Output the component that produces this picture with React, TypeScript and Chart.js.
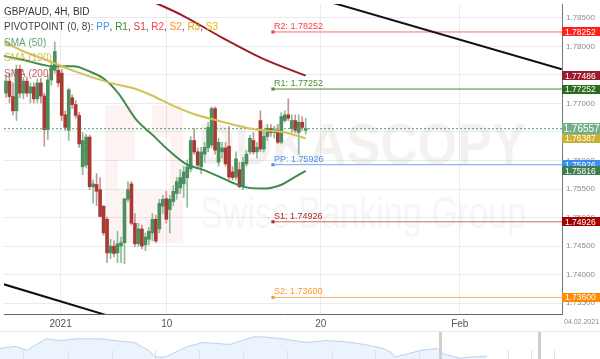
import React, { useEffect, useRef } from "react";
import { Chart, registerables } from "chart.js";

Chart.register(...registerables);

const FONT = '"Liberation Sans", Arial, sans-serif';
Chart.defaults.font.family = FONT;

// ---------------- GBP/AUD 4H candles ----------------
const candleOpen = [
  1.7718, 1.7739, 1.7712, 1.7687, 1.7760, 1.7718, 1.7739, 1.7718, 1.7729, 1.7708,
  1.7736, 1.7713, 1.7654, 1.7741, 1.7758, 1.7758, 1.7753, 1.7680, 1.7653, 1.7710,
  1.7698, 1.7679, 1.7589, 1.7592, 1.7641, 1.7554, 1.7558, 1.7549, 1.7520, 1.7497,
  1.7438, 1.7450, 1.7438, 1.7450, 1.7456, 1.7532, 1.7559, 1.7490, 1.7454, 1.7480,
  1.7452, 1.7462, 1.7473, 1.7497, 1.7480, 1.7520, 1.7533, 1.7514, 1.7528, 1.7542,
  1.7552, 1.7559, 1.7570, 1.7585, 1.7635, 1.7615, 1.7589, 1.7611, 1.7622, 1.7627,
  1.7691, 1.7597, 1.7615, 1.7622, 1.7625, 1.7580, 1.7571, 1.7584, 1.7554, 1.7594,
  1.7615, 1.7635, 1.7615, 1.7670, 1.7620, 1.7642, 1.7656, 1.7649, 1.7653, 1.7632,
  1.7670, 1.7680, 1.7656, 1.7670, 1.7649, 1.7667, 1.7653,
];
const candleHigh = [
  1.7750, 1.7753, 1.7736, 1.7767, 1.7767, 1.7746, 1.7746, 1.7736, 1.7736, 1.7743,
  1.7744, 1.7718, 1.7750, 1.7770, 1.7808, 1.7763, 1.7760, 1.7687, 1.7727, 1.7715,
  1.7705, 1.7684, 1.7649, 1.7646, 1.7644, 1.7566, 1.7577, 1.7570, 1.7521, 1.7501,
  1.7462, 1.7459, 1.7476, 1.7466, 1.7533, 1.7563, 1.7563, 1.7507, 1.7490, 1.7487,
  1.7473, 1.7483, 1.7507, 1.7504, 1.7532, 1.7539, 1.7546, 1.7539, 1.7556, 1.7570,
  1.7584, 1.7590, 1.7601, 1.7642, 1.7656, 1.7622, 1.7623, 1.7632, 1.7667, 1.7694,
  1.7694, 1.7639, 1.7632, 1.7632, 1.7660, 1.7589, 1.7615, 1.7597, 1.7606, 1.7618,
  1.7644, 1.7649, 1.7632, 1.7687, 1.7653, 1.7663, 1.7663, 1.7660, 1.7663, 1.7684,
  1.7687, 1.7708, 1.7680, 1.7680, 1.7680, 1.7677, 1.7674,
];
const candleLow = [
  1.7710, 1.7701, 1.7680, 1.7670, 1.7710, 1.7708, 1.7712, 1.7701, 1.7701, 1.7701,
  1.7701, 1.7625, 1.7637, 1.7732, 1.7753, 1.7729, 1.7670, 1.7653, 1.7635, 1.7691,
  1.7674, 1.7623, 1.7575, 1.7587, 1.7549, 1.7525, 1.7521, 1.7501, 1.7469, 1.7421,
  1.7428, 1.7431, 1.7421, 1.7421, 1.7419, 1.7528, 1.7487, 1.7449, 1.7449, 1.7445,
  1.7442, 1.7452, 1.7459, 1.7456, 1.7473, 1.7507, 1.7490, 1.7473, 1.7521, 1.7532,
  1.7542, 1.7535, 1.7518, 1.7580, 1.7611, 1.7587, 1.7577, 1.7597, 1.7615, 1.7622,
  1.7611, 1.7590, 1.7604, 1.7590, 1.7566, 1.7566, 1.7566, 1.7552, 1.7549, 1.7590,
  1.7611, 1.7611, 1.7604, 1.7615, 1.7615, 1.7635, 1.7642, 1.7639, 1.7629, 1.7629,
  1.7667, 1.7670, 1.7649, 1.7649, 1.7611, 1.7653, 1.7646,
];
const candleClose = [
  1.7739, 1.7712, 1.7687, 1.7760, 1.7718, 1.7739, 1.7718, 1.7729, 1.7708, 1.7736,
  1.7713, 1.7654, 1.7741, 1.7763, 1.7791, 1.7736, 1.7679, 1.7658, 1.7724, 1.7698,
  1.7679, 1.7629, 1.7635, 1.7641, 1.7554, 1.7559, 1.7546, 1.7502, 1.7473, 1.7438,
  1.7450, 1.7437, 1.7454, 1.7456, 1.7533, 1.7549, 1.7490, 1.7454, 1.7480, 1.7450,
  1.7466, 1.7476, 1.7497, 1.7459, 1.7525, 1.7532, 1.7497, 1.7532, 1.7546, 1.7563,
  1.7570, 1.7580, 1.7589, 1.7635, 1.7615, 1.7592, 1.7615, 1.7623, 1.7658, 1.7691,
  1.7618, 1.7632, 1.7622, 1.7594, 1.7571, 1.7570, 1.7603, 1.7554, 1.7597, 1.7611,
  1.7639, 1.7615, 1.7623, 1.7620, 1.7642, 1.7656, 1.7649, 1.7654, 1.7632, 1.7677,
  1.7680, 1.7674, 1.7670, 1.7653, 1.7667, 1.7658, 1.7656,
];

// ---------------- moving averages (candle index, value) ----------------
const sma50Index = [-0.6, 5.1, 13.7, 19.4, 23.6, 27.9, 32.2, 37.3, 42.2, 47.0, 51.6, 56.4, 60.7, 65.0, 69.8, 74.4, 79.2, 82.6, 86];
const sma50Value = [1.7783, 1.7776, 1.7765, 1.7765, 1.7757, 1.7744, 1.7718, 1.7672, 1.7644, 1.7616, 1.7594, 1.7584, 1.7573, 1.7561, 1.7552, 1.7551, 1.7558, 1.7570, 1.75816];
const sma100Index = [-0.6, 5.1, 11.7, 19.4, 29.9, 37.9, 42.2, 47.9, 53.6, 60.7, 66.4, 72.1, 80.1, 86];
const sma100Value = [1.7808, 1.7791, 1.7776, 1.7757, 1.7736, 1.7724, 1.7713, 1.7696, 1.7682, 1.7670, 1.7661, 1.7654, 1.7649, 1.76387];
const sma200Index = [41.5, 50.7, 62.1, 73.5, 86];
const sma200Value = [1.7880, 1.7854, 1.7815, 1.7779, 1.77486];

// ---------------- drawn trend lines ----------------
const trendUpperIndex = [90, 159.5];
const trendUpperValue = [1.7883, 1.7760];
const trendLowerIndex = [-0.6, 28.8];
const trendLowerValue = [1.7383, 1.7329];

// ---------------- pivot points ----------------
const pivotNames = ["R2", "R1", "PP", "S1", "S2"];
const pivotValues = [1.78252, 1.77252, 1.75926, 1.74926, 1.736];
const pivotLineColors = ["#ff6a6a", "#4d8a2e", "#6ea3f2", "#c86a6a", "#ffae5c"];
const pivotTextColors = ["#ff3a3a", "#4a8a34", "#4a90ee", "#b02a2a", "#ff9a2a"];
const pivotStart = 76.6;

const lastPrice = 1.76557;

// ---------------- axes ----------------
const X_MIN = -0.57;
const X_MAX = 159.54;
const Y_MIN = 1.7331;
const Y_MAX = 1.78742;
const priceTicks = [1.735, 1.74, 1.745, 1.75, 1.755, 1.76, 1.765, 1.77, 1.775, 1.78, 1.785];
const dateTickPositions = [15.67, 46.15, 90.31, 130.2];
const dateTickLabels = ["2021", "10", "20", "Feb"];
const cursorDate = "04.02.2021";

// right-axis value boxes
const axisBoxValues = [1.78252, 1.77486, 1.77252, 1.76557, 1.76387, 1.75926, 1.75816, 1.74926, 1.736];
const axisBoxColors = ["#ff1f1f", "#9a1c2c", "#2e6b1e", "#72b08a", "#c9b136", "#3d8cf2", "#3e7d4f", "#a30000", "#ff8a00"];

// ---------------- navigator ----------------
const navDay = [0, 5.8, 10.3, 17.6, 23.4, 29.5, 38.3, 44.1, 51.4, 57.1, 59.4, 63.2, 72.1, 77.8, 88.2, 97.0, 101.2, 108.5, 117.3, 125.0, 132.2, 139.5, 146.8, 149.9, 151.4, 155.6, 161.4, 167.5, 170.2, 176.3, 180.5, 186.7];
const navClose = [1.738, 1.745, 1.731, 1.772, 1.766, 1.772, 1.772, 1.766, 1.759, 1.731, 1.707, 1.707, 1.745, 1.759, 1.752, 1.779, 1.779, 1.772, 1.759, 1.766, 1.762, 1.752, 1.738, 1.724, 1.707, 1.717, 1.731, 1.738, 1.717, 1.703, 1.707, 1.710];
const navTickDays = [8.8, 26, 43, 59.4, 76.3, 93.2, 110, 127.3, 143.8, 160.6, 194.7, 203.6, 212.4];
const navWindowDays = [168.7, 206.6];

const BODY_UP = "#4c8f5e";
const BODY_DOWN = "#a93a33";
const WICK_UP = "#8cbd99";
const WICK_DOWN = "#cc9290";

function pts(xs: number[], ys: number[]) {
  return xs.map((x, i) => ({ x, y: ys[i] }));
}

function MainChart() {
  const ref = useRef<HTMLCanvasElement | null>(null);
  useEffect(() => {
    if (!ref.current) return;
    const idx = candleOpen.map((_, i) => i);
    const up = (i: number) => candleClose[i] >= candleOpen[i];

    const pivotSets: any[] = pivotValues.map((v, k) => ({
      type: "line",
      data: [{ x: pivotStart, y: v }, { x: X_MAX, y: v }],
      borderColor: pivotLineColors[k],
      borderWidth: 1,
      pointRadius: (c: any) => (c.dataIndex === 0 ? 2.2 : 0),
      pointStyle: "rect",
      pointBackgroundColor: pivotTextColors[k],
      pointBorderWidth: 0,
      order: 2,
    }));

    const watermark = {
      id: "watermark",
      beforeDatasetsDraw(chart: any) {
        const { ctx, chartArea: a } = chart;
        ctx.save();
        ctx.beginPath();
        ctx.rect(a.left, a.top, a.right - a.left, a.bottom - a.top);
        ctx.clip();
        ctx.fillStyle = "rgba(232,90,90,0.075)";
        const blocks = [
          [105, 105, 30, 55],
          [105, 160, 13, 83],
          [152, 105, 31, 32],
          [170, 137, 13, 106],
          [118, 190, 52, 53],
        ];
        blocks.forEach((b) => ctx.fillRect(b[0], b[1], b[2], b[3]));
        ctx.textBaseline = "alphabetic";
        ctx.fillStyle = "rgba(160,130,130,0.11)";
        ctx.font = `bold 72px ${FONT}`;
        let w = ctx.measureText("DUKASCOPY").width;
        ctx.save();
        ctx.translate(198, 164);
        ctx.scale(328 / w, 0.8);
        ctx.fillText("DUKASCOPY", 0, 0);
        ctx.restore();
        ctx.fillStyle = "rgba(150,150,150,0.09)";
        ctx.font = `44px ${FONT}`;
        w = ctx.measureText("Swiss Banking Group").width;
        ctx.save();
        ctx.translate(200, 228);
        ctx.scale(326 / w, 1);
        ctx.fillText("Swiss Banking Group", 0, 0);
        ctx.restore();
        ctx.restore();
      },
    };

    const overlay = {
      id: "overlay",
      afterDraw(chart: any) {
        const { ctx } = chart;
        const xs = chart.scales.x;
        const ys = chart.scales.y;
        ctx.save();
        // legend block
        ctx.textBaseline = "middle";
        ctx.textAlign = "left";
        ctx.font = `10px ${FONT}`;
        ctx.fillStyle = "#333";
        ctx.fillText("GBP/AUD, 4H, BID", 4, 12);
        const segs: [string, string][] = [
          ["PIVOTPOINT (0, 8): ", "#444"],
          ["PP", "#4a8ff0"], [", ", "#444"],
          ["R1", "#3a8a3a"], [", ", "#444"],
          ["S1", "#d43a3a"], [", ", "#444"],
          ["R2", "#ff4040"], [", ", "#444"],
          ["S2", "#ff8c1a"], [", ", "#444"],
          ["R3", "#e0a800"], [", ", "#444"],
          ["S3", "#e8b800"],
        ];
        let lx = 4;
        segs.forEach(([t, c]) => {
          ctx.fillStyle = c;
          ctx.fillText(t, lx, 27);
          lx += ctx.measureText(t).width;
        });
        ctx.fillStyle = "rgba(74,140,90,0.85)";
        ctx.fillText("SMA (50)", 4, 43);
        ctx.fillStyle = "rgba(205,184,74,0.9)";
        ctx.fillText("SMA (100)", 4, 58);
        ctx.fillStyle = "rgba(184,64,72,0.85)";
        ctx.fillText("SMA (200)", 4, 74);

        // pivot labels
        ctx.font = `9px ${FONT}`;
        ctx.textBaseline = "bottom";
        const px = xs.getPixelForValue(pivotStart);
        pivotValues.forEach((v, k) => {
          ctx.fillStyle = pivotTextColors[k];
          ctx.fillText(`${pivotNames[k]}: ${v.toFixed(5)}`, px + 1, ys.getPixelForValue(v) - 1);
        });

        // right axis boxes
        const right = chart.width;
        axisBoxValues.forEach((v, k) => {
          const y = ys.getPixelForValue(v);
          const big = v === lastPrice;
          const h = big ? 11 : 9;
          ctx.fillStyle = axisBoxColors[k];
          ctx.fillRect(xs.right, Math.round(y - h / 2), right - xs.right, h);
          ctx.fillStyle = "#fff";
          ctx.font = big ? `10px ${FONT}` : `8.5px ${FONT}`;
          ctx.textBaseline = "middle";
          ctx.fillText(v.toFixed(5), xs.right + (big ? 1.5 : 3), Math.round(y) + 0.5);
        });

        // cursor date
        ctx.font = `7px ${FONT}`;
        ctx.fillStyle = "#8a8a8a";
        ctx.textBaseline = "middle";
        ctx.fillText(cursorDate, xs.right + 2, ys.bottom + 8);
        ctx.restore();
      },
    };

    const chart = new Chart(ref.current, {
      type: "bar",
      data: {
        datasets: [
          {
            type: "line",
            data: pts(trendUpperIndex, trendUpperValue),
            borderColor: "#111",
            borderWidth: 2,
            pointRadius: 0,
            order: 0,
          },
          {
            type: "line",
            data: pts(trendLowerIndex, trendLowerValue),
            borderColor: "#111",
            borderWidth: 2,
            pointRadius: 0,
            order: 0,
          },
          {
            type: "line",
            data: pts(sma200Index, sma200Value),
            borderColor: "#9b1d2c",
            borderWidth: 2,
            pointRadius: 0,
            cubicInterpolationMode: "monotone",
            order: 1,
          },
          {
            type: "line",
            data: pts(sma100Index, sma100Value),
            borderColor: "#d4c154",
            borderWidth: 2,
            pointRadius: 0,
            cubicInterpolationMode: "monotone",
            order: 1,
          },
          {
            type: "line",
            data: pts(sma50Index, sma50Value),
            borderColor: "#3f8a4c",
            borderWidth: 2,
            pointRadius: 0,
            cubicInterpolationMode: "monotone",
            order: 1,
          },
          ...pivotSets,
          {
            type: "line",
            data: [{ x: X_MIN, y: lastPrice }, { x: X_MAX, y: lastPrice }],
            borderColor: "#4f9d62",
            borderWidth: 1,
            borderDash: [2, 2],
            pointRadius: 0,
            order: 2,
          },
          {
            type: "bar",
            data: idx.map((i) => ({ x: i, y: [candleOpen[i], candleClose[i]] })) as any,
            backgroundColor: idx.map((i) => (up(i) ? BODY_UP : BODY_DOWN)),
            barThickness: 3,
            grouped: false,
            borderWidth: 0,
            minBarLength: 1,
            order: 3,
          },
          {
            type: "bar",
            data: idx.map((i) => ({ x: i, y: [candleLow[i], candleHigh[i]] })) as any,
            backgroundColor: idx.map((i) => (up(i) ? WICK_UP : WICK_DOWN)),
            barThickness: 1,
            grouped: false,
            borderWidth: 0,
            order: 4,
          },
        ] as any,
      },
      options: {
        animation: false,
        responsive: false,
        devicePixelRatio: 1,
        events: [],
        layout: { padding: 0 },
        plugins: { legend: { display: false }, tooltip: { enabled: false } },
        scales: {
          x: {
            type: "linear",
            min: X_MIN,
            max: X_MAX,
            offset: false,
            afterBuildTicks: (s: any) => {
              s.ticks = dateTickPositions.map((v) => ({ value: v }));
            },
            afterFit: (s: any) => {
              s.height = 45;
              s.paddingLeft = 0;
              s.paddingRight = 0;
            },
            ticks: {
              autoSkip: false,
              maxRotation: 0,
              padding: 4,
              color: "#555",
              font: { size: 10 },
              callback: (_v: any, i: number) => dateTickLabels[i],
            },
            grid: { color: "#ebebeb", drawTicks: false, offset: false },
            border: { color: "#666" },
          },
          y: {
            position: "right",
            min: Y_MIN,
            max: Y_MAX,
            afterBuildTicks: (s: any) => {
              s.ticks = priceTicks.map((v) => ({ value: v }));
            },
            afterFit: (s: any) => {
              s.width = 38;
              s.paddingTop = 0;
              s.paddingBottom = 0;
            },
            ticks: {
              padding: 4,
              color: "#8a8a8a",
              font: { size: 8 },
              callback: (v: any) => Number(v).toFixed(5),
            },
            grid: { color: "#ebebeb", drawTicks: false },
            border: { color: "#777" },
          },
        },
      } as any,
      plugins: [watermark, overlay],
    });
    return () => chart.destroy();
  }, []);
  return (
    <canvas
      ref={ref}
      width={600}
      height={359}
      style={{ position: "absolute", left: 0, top: 0, display: "block" }}
    />
  );
}

function NavigatorChart() {
  const ref = useRef<HTMLCanvasElement | null>(null);
  useEffect(() => {
    if (!ref.current) return;
    const navDecor = {
      id: "navDecor",
      afterDraw(chart: any) {
        const { ctx } = chart;
        const xs = chart.scales.x;
        const h = chart.height;
        ctx.save();
        ctx.fillStyle = "#e8e8e8";
        ctx.fillRect(0, 0, chart.width, 1);
        ctx.fillStyle = "#e2e2e2";
        navTickDays.forEach((d) => {
          const x = Math.round(xs.getPixelForValue(d));
          ctx.fillRect(x, h - 9, 1, 9);
        });
        ctx.fillStyle = "#cfcfcf";
        navWindowDays.forEach((d) => {
          const x = Math.round(xs.getPixelForValue(d));
          ctx.fillRect(x - 1, 1, 3, h - 1);
        });
        ctx.restore();
      },
    };
    const chart = new Chart(ref.current, {
      type: "line",
      data: {
        datasets: [
          {
            data: pts(navDay, navClose),
            borderColor: "#b9d2f1",
            borderWidth: 1,
            backgroundColor: "#ebf3fd",
            fill: "start",
            pointRadius: 0,
          },
        ],
      },
      options: {
        animation: false,
        responsive: false,
        devicePixelRatio: 1,
        events: [],
        layout: { padding: 0 },
        plugins: { legend: { display: false }, tooltip: { enabled: false } },
        scales: {
          x: { type: "linear", min: 0, max: 230, display: false },
          y: { min: 1.7, max: 1.8, display: false },
        },
      } as any,
      plugins: [navDecor],
    });
    return () => chart.destroy();
  }, []);
  return (
    <canvas
      ref={ref}
      width={600}
      height={28}
      style={{ position: "absolute", left: 0, top: 331, display: "block" }}
    />
  );
}

export default function App() {
  return (
    <div style={{ position: "absolute", left: 0, top: 0, width: 600, height: 359, background: "#fff", overflow: "hidden" }}>
      <MainChart />
      <NavigatorChart />
    </div>
  );
}
